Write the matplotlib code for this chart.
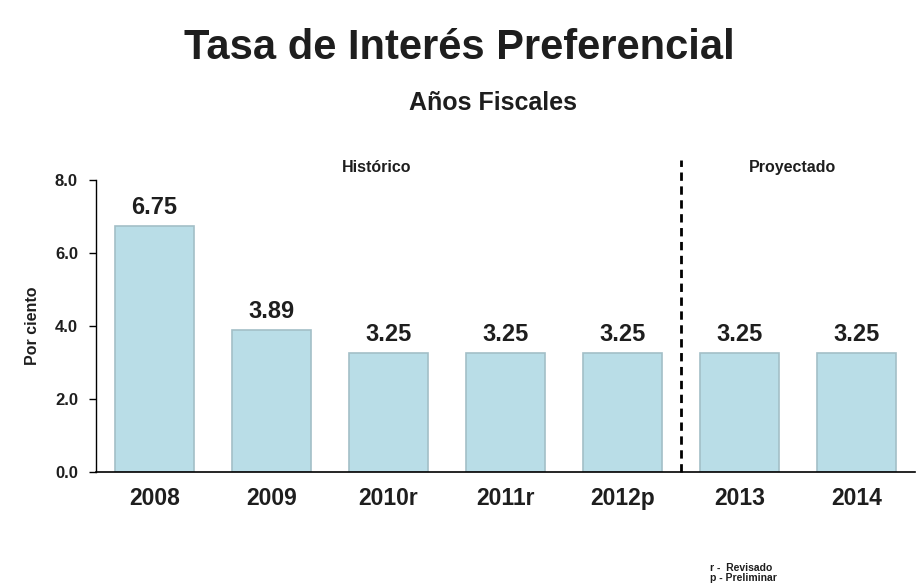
import matplotlib
matplotlib.use("Agg")
import matplotlib.pyplot as plt

plt.rcParams['font.family'] = ['Liberation Sans', 'DejaVu Sans']

years = ["2008", "2009", "2010r", "2011r", "2012p", "2013", "2014"]
rates = [6.75, 3.89, 3.25, 3.25, 3.25, 3.25, 3.25]
y_ticks = [0.0, 2.0, 4.0, 6.0, 8.0]

fig = plt.figure(figsize=(9.16, 5.86), dpi=100)
ax = fig.add_axes([0.1048, 0.1945, 0.894, 0.4983])

x = list(range(len(years)))
bars = ax.bar(x, rates, width=0.675, color="#b9dde7", edgecolor="#a3bfc7", linewidth=1.2)

for xi, v in zip(x, rates):
    ax.annotate(f"{v:.2f}", (xi, v), xytext=(0, 5), textcoords="offset points",
                ha="center", va="bottom", fontsize=17, fontweight="bold", color="#1e1e1e")

ax.set_xlim(-0.5, len(years) - 0.5)
ax.set_ylim(0, 8.0)
ax.set_yticks(y_ticks)
ax.set_yticklabels([f"{t:.1f}" for t in y_ticks], fontsize=12, fontweight="bold", color="#1e1e1e")
ax.set_xticks(x)
ax.set_xticklabels(years, fontsize=16.5, fontweight="bold", color="#1e1e1e")
ax.tick_params(axis="x", length=0, pad=11)
ax.tick_params(axis="y", length=5, width=1, pad=8)

ax.spines["top"].set_visible(False)
ax.spines["right"].set_visible(False)
ax.spines["bottom"].set_linewidth(1.2)
ax.spines["left"].set_linewidth(1.0)

ax.set_ylabel("Por ciento", fontsize=11.5, fontweight="bold", color="#1e1e1e", labelpad=11)

# separation between historic and projected years
ax.plot([4.5, 4.5], [0, 8.55], color="black", linestyle=(0, (3, 2)), linewidth=2, clip_on=False)
ax.text(1.9, 8.33, "Histórico", ha="center", va="center", fontsize=11.5, fontweight="bold", color="#1e1e1e")
ax.text(5.45, 8.33, "Proyectado", ha="center", va="center", fontsize=11.5, fontweight="bold", color="#1e1e1e")

fig.text(0.502, 0.918, "Tasa de Interés Preferencial", ha="center", va="center",
         fontsize=30, fontweight="bold", color="#1e1e1e")
fig.text(0.538, 0.824, "Años Fiscales", ha="center", va="center",
         fontsize=18, fontweight="bold", color="#1e1e1e")

fig.text(0.775, 0.031, "r -  Revisado", ha="left", va="center", fontsize=7.5, fontweight="bold", color="#1e1e1e")
fig.text(0.775, 0.013, "p - Preliminar", ha="left", va="center", fontsize=7.5, fontweight="bold", color="#1e1e1e")

fig.savefig("out.png", dpi=100)
